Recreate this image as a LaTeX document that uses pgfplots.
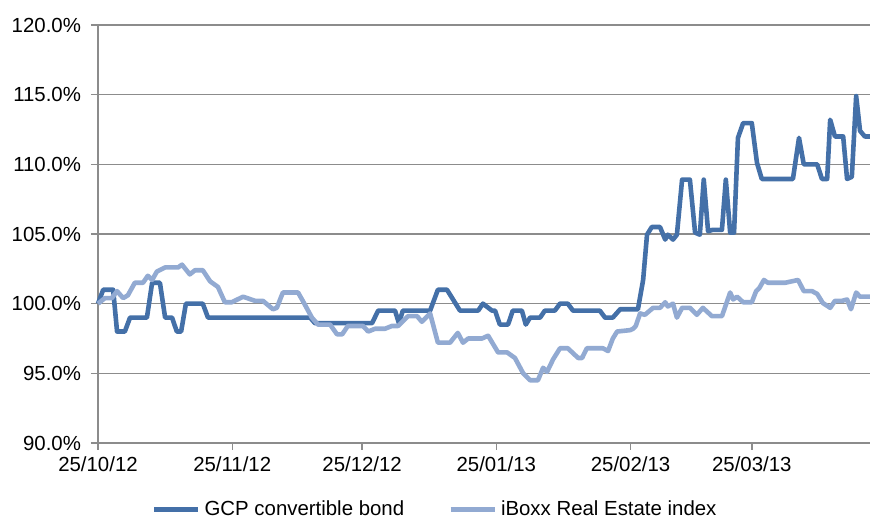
\documentclass[border=0pt]{standalone}
\usepackage{pgfplots}
\pgfplotsset{compat=1.18}
\usepackage{fontspec}
\setmainfont{Liberation Sans}
\definecolor{gcpblue}{RGB}{68,112,168}
\definecolor{iboxxblue}{RGB}{146,170,210}
\definecolor{gridgray}{RGB}{140,140,140}

% x = days since 25/10/12
\pgfplotstableread{
d v
0.0 100.0
1.2 101.0
3.5 101.0
4.4 98.0
6.2 98.0
7.4 99.0
11.3 99.0
12.5 101.5
14.3 101.5
15.5 99.0
17.1 99.0
18.2 98.0
19.2 98.0
20.3 100.0
24.2 100.0
25.4 99.0
49.0 99.0
50.1 98.6
63.3 98.6
64.7 99.5
68.6 99.5
69.5 98.6
70.4 99.5
76.7 99.5
78.5 101.0
80.6 101.0
83.6 99.5
87.8 99.5
88.9 100.0
91.0 99.5
91.7 99.5
92.8 98.5
94.7 98.5
95.8 99.5
97.9 99.5
98.8 98.5
99.8 99.0
102.1 99.0
103.2 99.5
105.5 99.5
106.7 100.0
108.5 100.0
109.7 99.5
115.9 99.5
117.1 99.0
118.9 99.0
120.6 99.6
122.9 99.6
124.7 99.6
125.9 101.7
126.8 104.95
127.9 105.5
129.8 105.5
131.0 104.6
131.6 104.95
132.8 104.6
133.7 104.95
134.9 108.9
136.7 108.9
137.9 105.1
139.0 104.95
139.9 108.9
140.9 105.2
142.0 105.3
144.1 105.3
145.0 108.9
146.0 105.1
146.9 105.1
147.8 111.9
149.0 112.96
151.0 112.96
152.2 110.1
153.3 108.95
160.5 108.95
161.9 111.9
163.0 110.0
166.1 110.0
167.2 108.95
168.4 108.95
169.1 113.2
170.2 112.0
172.1 112.0
173.0 108.95
174.1 109.1
175.1 114.9
176.0 112.4
177.1 112.0
178.3 112.0
}\gcp

\pgfplotstableread{
d v
0.0 100.0
1.6 100.4
3.2 100.4
4.4 100.9
5.8 100.4
6.9 100.6
8.5 101.5
10.4 101.5
11.5 102.0
12.5 101.7
13.6 102.3
15.5 102.6
18.5 102.6
19.4 102.8
21.2 102.1
22.4 102.4
24.2 102.4
25.9 101.6
27.7 101.2
29.3 100.1
30.9 100.1
33.5 100.5
36.3 100.2
38.1 100.2
40.4 99.6
41.3 99.7
42.7 100.8
46.2 100.8
47.3 100.2
49.4 99.0
50.8 98.5
53.6 98.5
55.2 97.8
56.4 97.8
57.7 98.4
61.2 98.4
62.4 98.0
64.0 98.2
66.3 98.2
67.9 98.4
69.3 98.4
71.6 99.1
73.7 99.1
74.8 98.7
76.7 99.3
78.5 97.2
81.3 97.2
83.1 97.9
84.3 97.2
85.5 97.5
88.7 97.5
90.1 97.7
92.4 96.5
94.5 96.5
96.3 96.1
98.2 95.0
99.8 94.5
101.6 94.5
102.8 95.4
103.7 95.1
105.1 96.0
106.7 96.8
108.5 96.8
110.9 96.1
111.8 96.1
112.9 96.8
116.6 96.8
117.8 96.6
118.9 97.5
119.9 98.0
122.9 98.1
123.6 98.2
124.2 98.4
125.2 99.3
126.3 99.2
128.2 99.7
129.8 99.7
131.0 100.1
131.6 99.8
132.8 100.0
133.7 99.0
134.9 99.7
136.7 99.7
138.3 99.2
139.7 99.7
141.8 99.1
144.1 99.1
146.0 100.8
146.7 100.3
147.6 100.5
149.0 100.1
151.0 100.1
152.0 100.9
152.7 101.1
153.8 101.7
154.7 101.5
158.7 101.5
161.7 101.7
163.0 100.9
164.9 100.9
166.1 100.7
167.4 100.05
169.1 99.7
170.2 100.2
171.8 100.2
173.0 100.3
173.9 99.6
175.1 100.8
176.0 100.5
178.3 100.5
}\iboxx

\begin{document}
\begin{tikzpicture}
\begin{axis}[
    scale only axis,
    width=386pt,
    height=209pt,
    xmin=0, xmax=178.3,
    ymin=90, ymax=120,
    ytick={90,95,...,120},
    xtick={0,31,61,92,123,151},
    xticklabels={25/10/12,25/11/12,25/12/12,25/01/13,25/02/13,25/03/13},
    yticklabel={\pgfmathprintnumber[fixed,fixed zerofill,precision=1]{\tick}\%},
    /pgf/number format/assume math mode=true,
    ticklabel style={font=\fontsize{10.2}{12}\selectfont, text=black},
    yticklabel style={xshift=-1.5pt},
    axis x line*=bottom,
    axis y line*=left,
    axis line style={gridgray, line width=0.7pt, -},
    tick style={gridgray, line width=0.7pt},
    tick align=outside,
    major tick length=3.5pt,
    ymajorgrids,
    major grid style={gridgray, line width=0.7pt},
    xtick pos=bottom,
    ytick pos=left,
    clip=false,
    legend columns=2,
    legend style={at={(0.438,-0.16)}, anchor=center, draw=none, fill=none,
        font=\fontsize{10.2}{12}\selectfont,
        /tikz/every odd column/.append style={column sep=0pt},
        /tikz/every even column/.append style={column sep=20pt}},
    legend image code/.code={\draw[#1, line width=2.4pt] (0pt,0pt) -- (22pt,0pt);},
]
\coordinate (sw) at (rel axis cs:0,0);
\coordinate (ne) at (rel axis cs:1,1);
\addplot[gcpblue, line width=2.3pt, line join=round] table[x=d, y=v] {\gcp};
\addlegendentry{GCP convertible bond}
\addplot[iboxxblue, line width=2.3pt, line join=round] table[x=d, y=v] {\iboxx};
\addlegendentry{iBoxx Real Estate index}
\end{axis}
\pgfresetboundingbox
\path ([shift={(-49pt,-39pt)}]sw) rectangle ([shift={(0pt,12.5pt)}]ne);
\end{tikzpicture}
\end{document}
